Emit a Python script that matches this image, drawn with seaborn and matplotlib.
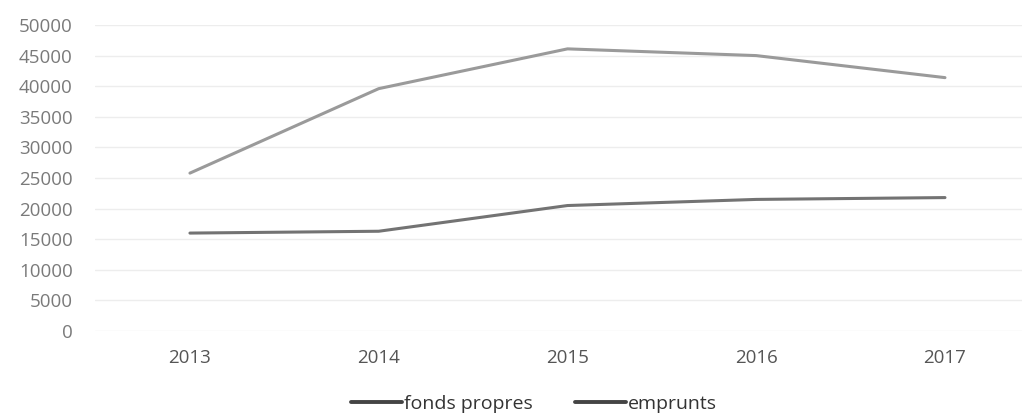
import matplotlib
matplotlib.use("Agg")
import matplotlib.pyplot as plt
import seaborn as sns
import pandas as pd
from matplotlib.lines import Line2D

years = ["2013", "2014", "2015", "2016", "2017"]
fonds_propres = [25800, 39600, 46100, 45000, 41400]
emprunts = [16000, 16300, 20500, 21500, 21800]
series_names = ["fonds propres", "emprunts"]
yticks = list(range(0, 50001, 5000))

df = pd.DataFrame({
    "year": list(range(len(years))) * 2,
    "value": fonds_propres + emprunts,
    "series": [series_names[0]] * len(years) + [series_names[1]] * len(years),
})

sns.set_theme(style="white")
plt.rcParams['font.family'] = ['Open Sans', 'DejaVu Sans']

fig = plt.figure(figsize=(10.22, 4.19), dpi=100)
ax = fig.add_axes([95 / 1022, 1 - 331 / 419, 927 / 1022, (331 - 25) / 419])

sns.lineplot(data=df, x="year", y="value", hue="series",
             palette={series_names[0]: "#9a9a9a", series_names[1]: "#737373"},
             linewidth=2.2, ax=ax, legend=False)

ax.set_ylim(0, 50000)
ax.set_xlim(-0.503, 4.408)
ax.set_yticks(yticks)
ax.set_yticklabels([str(v) for v in yticks])
ax.set_xticks(range(len(years)))
ax.set_xticklabels(years)
ax.grid(axis="y", color="#ededed", linewidth=1)
for s in ax.spines.values():
    s.set_visible(False)
ax.tick_params(axis="y", colors="#7a7a7a", labelsize=13.5, length=0, pad=16)
ax.tick_params(axis="x", colors="#555555", labelsize=13.5, length=0, pad=13)
ax.set_xlabel("")
ax.set_ylabel("")

handles = [Line2D([0], [0], color="#444444", lw=2.8),
           Line2D([0], [0], color="#444444", lw=2.8)]
fig.legend(handles, series_names, loc="center", bbox_to_anchor=(534 / 1022, 1 - 404 / 419),
           ncol=2, frameon=False, fontsize=14, handlelength=2.6, handletextpad=0.1,
           columnspacing=2.2, labelcolor="#333333")

fig.savefig("out.png", dpi=100)
